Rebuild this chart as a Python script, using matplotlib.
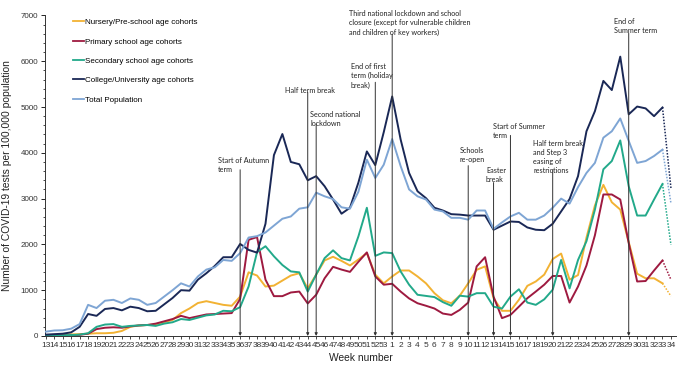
import matplotlib
matplotlib.use("Agg")
import matplotlib.pyplot as plt
import numpy as np

weeks = [str(w) for w in list(range(13, 54)) + list(range(1, 35))]

nursery = [20, 25, 30, 35, 40, 50, 60, 60, 70, 110, 200, 230, 240, 250, 300, 350, 500, 600, 720, 760,
           720, 680, 660, 860, 1390, 1320, 1080, 1100, 1210, 1320, 1370, 1040, 1340, 1650, 1730, 1640, 1540, 1670, 1810, 1340,
           1150, 1300, 1430, 1430, 1300, 1150, 935, 780, 715, 880, 1150, 1445, 1520, 825, 550, 550, 790, 1095, 1190, 1340,
           1680, 1800, 1230, 1330, 2150, 2850, 3300, 2920, 2760, 2050, 1360, 1260, 1260, 1150, 870]
primary = [5, 10, 10, 15, 25, 50, 150, 180, 190, 180, 210, 230, 240, 270, 320, 370, 440, 390, 430, 470,
           480, 490, 500, 810, 2100, 2160, 1230, 870, 870, 950, 970, 710, 900, 1260, 1510, 1450, 1400, 1620, 1825, 1300,
           1120, 1140, 970, 820, 715, 660, 600, 490, 460, 570, 730, 1520, 1720, 860, 390, 460, 640, 825, 970, 1120,
           1310, 1310, 730, 1080, 1540, 2200, 3090, 3090, 2980, 2030, 1190, 1200, 1430, 1650, 1230]
secondary = [10, 10, 15, 20, 30, 60, 200, 250, 260, 200, 220, 230, 240, 220, 270, 300, 370, 350, 400, 450,
             470, 550, 540, 630, 1080, 1830, 1960, 1740, 1550, 1410, 1390, 970, 1340, 1700, 1870, 1700, 1650, 2175, 2800, 1750,
             1825, 1810, 1410, 1120, 900, 875, 850, 740, 660, 880, 860, 935, 935, 640, 600, 860, 1020, 730, 680, 800,
             1010, 1660, 1040, 1660, 2070, 2760, 3640, 3820, 4270, 3270, 2630, 2630, 2980, 3320, 1990]
college = [30, 40, 50, 80, 200, 480, 440, 590, 610, 560, 640, 610, 540, 550, 690, 830, 1000, 990, 1230, 1370,
           1530, 1720, 1720, 2010, 1880, 1820, 2450, 3950, 4410, 3800, 3750, 3400, 3490, 3270, 2980, 2670, 2800, 3350, 4030, 3730,
           4450, 5230, 4290, 3560, 3160, 3010, 2800, 2740, 2660, 2650, 2630, 2630, 2630, 2320, 2410, 2500, 2490, 2370, 2320, 2310,
           2450, 2720, 2990, 3490, 4470, 4910, 5570, 5370, 6100, 4840, 5010, 4970, 4800, 4990, 3230]
total = [95, 120, 125, 160, 260, 680, 610, 770, 790, 720, 820, 790, 680, 720, 860, 1000, 1150, 1080, 1300, 1450,
         1500, 1660, 1640, 1810, 2150, 2180, 2260, 2410, 2560, 2610, 2780, 2810, 3130, 3050, 2990, 2810, 2780, 3150, 3850, 3450,
         3740, 4300, 3710, 3200, 3050, 2980, 2760, 2720, 2580, 2580, 2540, 2740, 2740, 2340, 2480, 2610, 2690, 2540, 2540, 2630,
         2800, 3000, 2890, 3250, 3560, 3780, 4330, 4470, 4750, 4260, 3780, 3820, 3930, 4070, 2900]

series = [
    ("Nursery/Pre-school age cohorts", nursery, "#F2B233"),
    ("Primary school age cohorts", primary, "#9E1A40"),
    ("Secondary school age cohorts", secondary, "#22A98A"),
    ("College/University age cohorts", college, "#1A2856"),
    ("Total Population", total, "#7EA5D4"),
]

# events: (week index position, label, text x, text top y, line top y)
events = [
    (23, "Start of Autumn\nterm", 20.4, 3900, 3630),
    (31, "Half term break", 28.3, 5440, 5320),
    (32, "Second national\nlockdown", 31.3, 4910, 4620),
    (39, "End of first\nterm (holiday\nbreak)", 36.1, 5960, 5540),
    (41, "Third national lockdown and school\nclosure (except for vulnerable children\nand children of key workers)", 35.9, 7120, 6590),
    (50, "Schools\nre-open", 49.0, 4120, 3720),
    (53, "Easter\nbreak", 52.1, 3690, 3350),
    (55, "Start of Summer\nterm", 52.9, 4650, 4380),
    (60, "Half term break\nand Step 3\neasing of\nrestrictions", 57.7, 4280, 3630),
    (69, "End of\nSummer term", 67.3, 6950, 6610),
]

plt.rcParams['font.family'] = ['Liberation Sans', 'DejaVu Sans']

fig = plt.figure(figsize=(6.79, 3.67), dpi=100)
ax = fig.add_axes([0.0663, 0.0845, 0.9293, 0.8735])

x = np.arange(len(weeks))
n = len(weeks)
for label, vals, col in series:
    ax.plot(x[:n - 1], vals[:n - 1], color=col, lw=1.4, label=label, zorder=3)
    ax.plot(x[n - 2:], vals[n - 2:], color=col, lw=1.1, ls=(0, (1, 1)), zorder=3)

for xi, txt, tx, ty, ly in events:
    ax.annotate("", xy=(xi, 0), xytext=(xi, ly),
                arrowprops=dict(arrowstyle="-|>", color="#333333", lw=0.7,
                                mutation_scale=4, shrinkA=0, shrinkB=0), zorder=4)
    ax.text(tx, ty, txt, fontsize=5.2, family=['Lato', 'DejaVu Sans'], color="#222222",
            ha='left', va='top', linespacing=1.35, clip_on=False)

ax.set_xlim(-0.1, 74.6)
ax.set_ylim(0, 7000)
ax.set_xticks(x)
ax.set_xticklabels(weeks, fontsize=6.0, color="#333333")
ax.set_yticks(range(0, 7001, 1000))
ax.set_yticks(range(0, 7001, 200), minor=True)
ax.tick_params(axis='y', labelsize=5.8, labelcolor="#333333", length=3, width=0.6, pad=2)
ax.tick_params(axis='y', which='minor', length=1.5, width=0.5)
ax.tick_params(axis='x', length=2, width=0.5, pad=2)
ax.spines['top'].set_visible(False)
ax.spines['right'].set_visible(False)
for s in ('left', 'bottom'):
    ax.spines[s].set_linewidth(0.7)
    ax.spines[s].set_color('#333333')

ax.set_xlabel("Week number", fontsize=7.4, labelpad=3, color="#222222")
ax.set_ylabel("Number of COVID-19 tests per 100,000 population", fontsize=7.4, labelpad=6, color="#222222")

leg = ax.legend(loc='upper left', bbox_to_anchor=(0.044, 0.99), frameon=False,
                fontsize=5.8, handlelength=1.4, handletextpad=0.1, labelspacing=1.45,
                borderpad=0, borderaxespad=0)
for line in leg.get_lines():
    line.set_linewidth(1.3)

fig.savefig("out.png", dpi=100)
